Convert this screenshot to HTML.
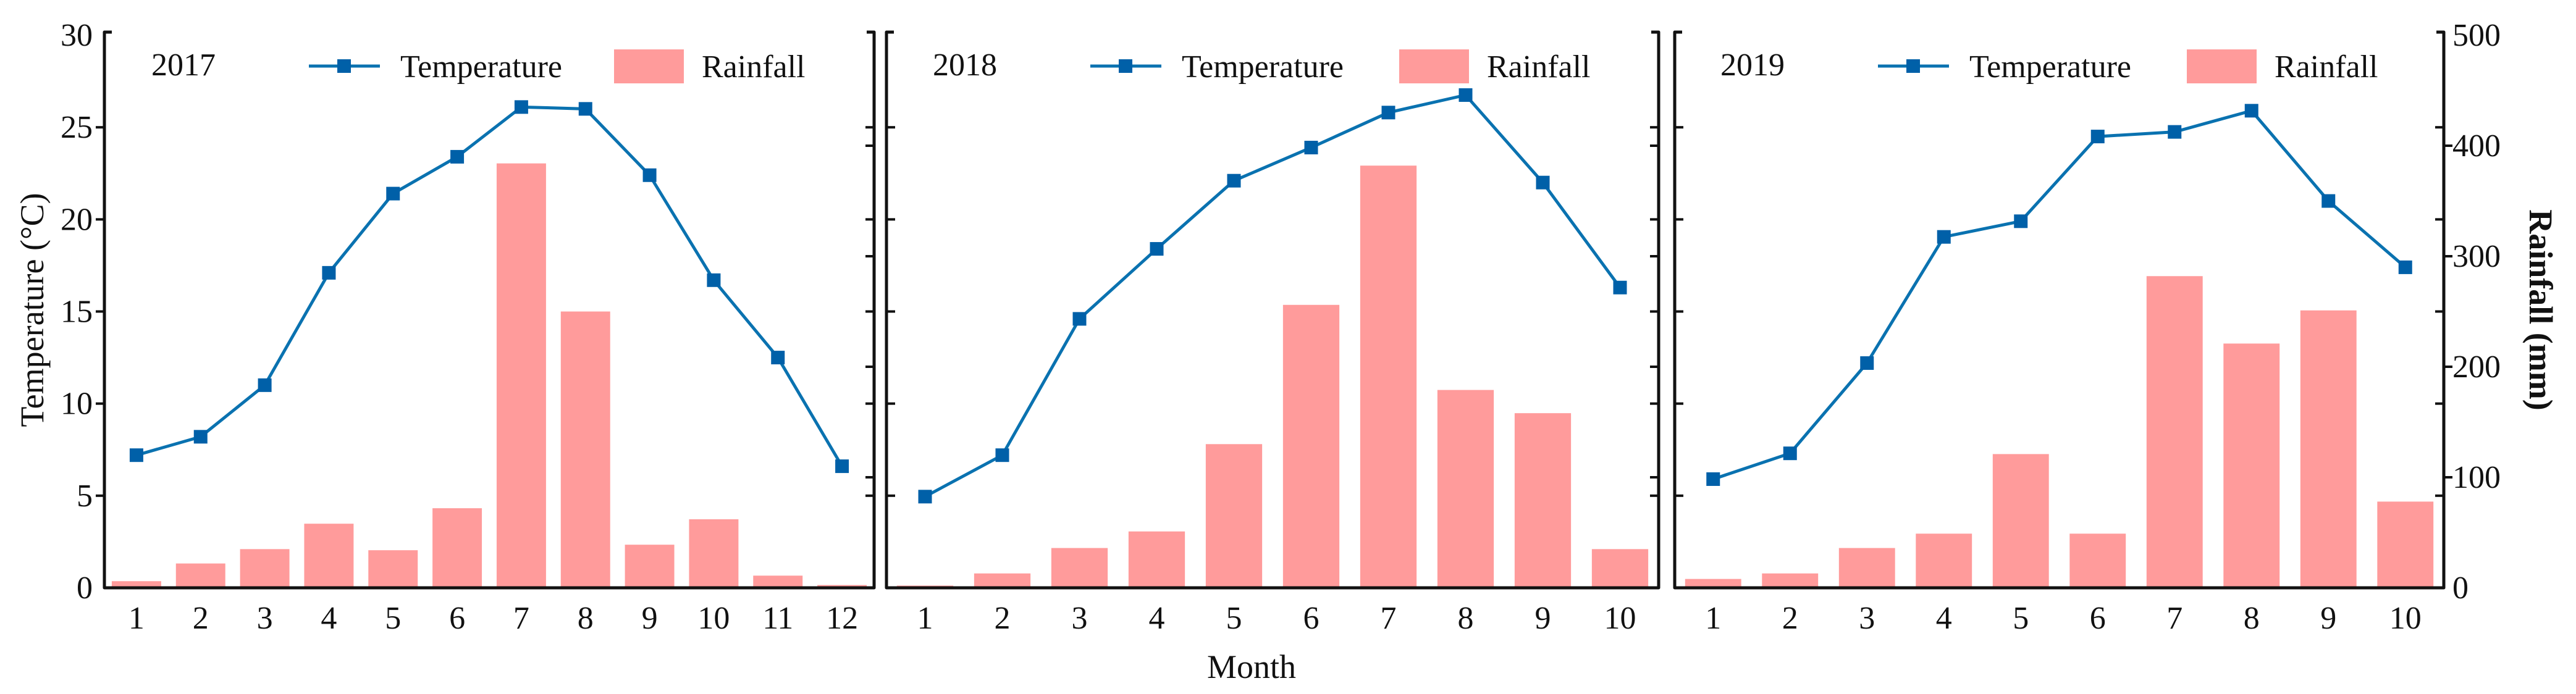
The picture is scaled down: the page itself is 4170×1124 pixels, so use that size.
<!DOCTYPE html>
<html><head><meta charset="utf-8"><style>
html,body{margin:0;padding:0;background:#fff;}
svg{display:block;font-family:"Liberation Serif",serif;}
</style></head><body>
<svg id="chart" width="4170" height="1124" viewBox="0 0 4170 1124"></svg>
<script>
const years = ["2017","2018","2019"];
const months2017 = [1,2,3,4,5,6,7,8,9,10,11,12];
const months2018 = [1,2,3,4,5,6,7,8,9,10];
const months2019 = [1,2,3,4,5,6,7,8,9,10];
const temp2017 = [7.2,8.2,11.0,17.1,21.4,23.4,26.1,26.0,22.4,16.7,12.5,6.6];
const rain2017 = [6,22,35,58,34,72,384,250,39,62,11,2.5];
const temp2018 = [4.95,7.2,14.6,18.4,22.1,23.9,25.8,26.75,22.0,16.3];
const rain2018 = [2,13,36,51,130,256,382,179,158,35];
const temp2019 = [5.9,7.3,12.2,19.05,19.9,24.5,24.75,25.9,21.0,17.4];
const rain2019 = [8,13,36,49,121,49,282,221,251,78];
const tempTicks = [0,5,10,15,20,25,30];
const rainTicks = [0,100,200,300,400,500];

const svg = document.getElementById('chart');
const NS = 'http://www.w3.org/2000/svg';
function mk(tag, attrs, parent){const e=document.createElementNS(NS,tag);for(const k in attrs)e.setAttribute(k,attrs[k]);(parent||svg).appendChild(e);return e;}

const Y0=952, YT=57;
const yT = v => Y0 - (v/30)*(Y0-YT);
const yR = v => Y0 - (v/500)*(Y0-YT);

const panels = [
 {x0:169,x1:1415,months:months2017,temp:temp2017,rain:rain2017,year:years[0],bw:0.77,leg:[245,500,994]},
 {x0:1435,x1:2685,months:months2018,temp:temp2018,rain:rain2018,year:years[1],bw:0.73,leg:[1510,1765,2265]},
 {x0:2711,x1:3956,months:months2019,temp:temp2019,rain:rain2019,year:years[2],bw:0.73,leg:[2785,3040,3540]}
];

panels.forEach((p,pi)=>{
  const g = mk('g',{});
  
  
  const band = (p.x1-p.x0)/p.months.length;
  const xc = i => p.x0 + band*(i+0.5);
  // bars
  p.rain.forEach((v,i)=>{
    const w=band*p.bw;
    const r=mk('rect',{x:xc(i)-w/2,y:yR(v),width:w,height:Y0-yR(v),fill:'#ff9b9b'},g);
    
    
  });
  // line
  const pts = p.temp.map((v,i)=>xc(i)+','+yT(v)).join(' ');
  const pl=mk('polyline',{points:pts,fill:'none',stroke:'#0a72b0','stroke-width':5},g);
  
  
  p.temp.forEach((v,i)=>{
    const m=mk('rect',{x:xc(i)-11,y:yT(v)-11,width:22,height:22,fill:'#0060a8'},g);
    
    
  });
  // axes frame
  const ax=mk('path',{d:`M${p.x0+12},${YT-5} H${p.x0} V${Y0} H${p.x1} V${YT-5} H${p.x1-12}`,fill:'none',stroke:'#111','stroke-width':5,'stroke-linejoin':'round'},g);
  
  
  // ticks
  tempTicks.forEach(t=>{
    if(t===0||t===30) return;
    if(pi===0) mk('line',{x1:p.x0-14,x2:p.x0,y1:yT(t),y2:yT(t),stroke:'#111','stroke-width':4},g);
    else mk('line',{x1:p.x0,x2:p.x0+14,y1:yT(t),y2:yT(t),stroke:'#111','stroke-width':4},g);
    mk('line',{x1:p.x1-14,x2:p.x1,y1:yT(t),y2:yT(t),stroke:'#111','stroke-width':4},g);
  });
  rainTicks.forEach(t=>{
    if(t===0||t===500) return;
    if(pi===2) mk('line',{x1:p.x1,x2:p.x1+14,y1:yR(t),y2:yR(t),stroke:'#111','stroke-width':4},g);
    else mk('line',{x1:p.x1-14,x2:p.x1,y1:yR(t),y2:yR(t),stroke:'#111','stroke-width':4},g);
  });
  // x tick labels
  p.months.forEach((m,i)=>{
    const t=mk('text',{x:xc(i),y:1018,'font-size':52,'text-anchor':'middle',fill:'#111'},g);
    t.textContent=m;
    
    
  });
  // legend
  const [yx,lx,rx]=p.leg;
  const yt=mk('text',{x:yx,y:122,'font-size':52,fill:'#111'},g); yt.textContent=p.year;
  
  
  const lg=mk('g',{},g);
  
  
  mk('line',{x1:lx,x2:lx+115,y1:107,y2:107,stroke:'#0a72b0','stroke-width':5},lg);
  mk('rect',{x:lx+46,y:96,width:22,height:22,fill:'#0060a8'},lg);
  const tt=mk('text',{x:lx+148,y:125,'font-size':52,fill:'#111'},lg); tt.textContent='Temperature';
  mk('rect',{x:rx,y:80,width:113,height:55,fill:'#ff9b9b'},lg);
  const rt=mk('text',{x:rx+142,y:125,'font-size':52,fill:'#111'},lg); rt.textContent='Rainfall';
});

// left y tick labels
tempTicks.forEach(t=>{
  const e=mk('text',{x:150,y:yT(t)+17,'font-size':52,'text-anchor':'end',fill:'#111'});
  e.textContent=t;
  
  
});
// right y tick labels
rainTicks.forEach(t=>{
  const e=mk('text',{x:3970,y:yR(t)+17,'font-size':52,fill:'#111'});
  e.textContent=t;
  
  
});
const yl=mk('text',{x:0,y:0,'font-size':54,'text-anchor':'middle',fill:'#111',transform:'translate(70,502) rotate(-90)'});
yl.textContent='Temperature (°C)';


const yr=mk('text',{x:0,y:0,'font-size':54,'text-anchor':'middle',fill:'#111','font-weight':'bold',transform:'translate(4095,502) rotate(90)'});
yr.textContent='Rainfall (mm)';


const xl=mk('text',{x:2026,y:1098,'font-size':54,'text-anchor':'middle',fill:'#111'});
xl.textContent='Month';


</script>
</body></html>
